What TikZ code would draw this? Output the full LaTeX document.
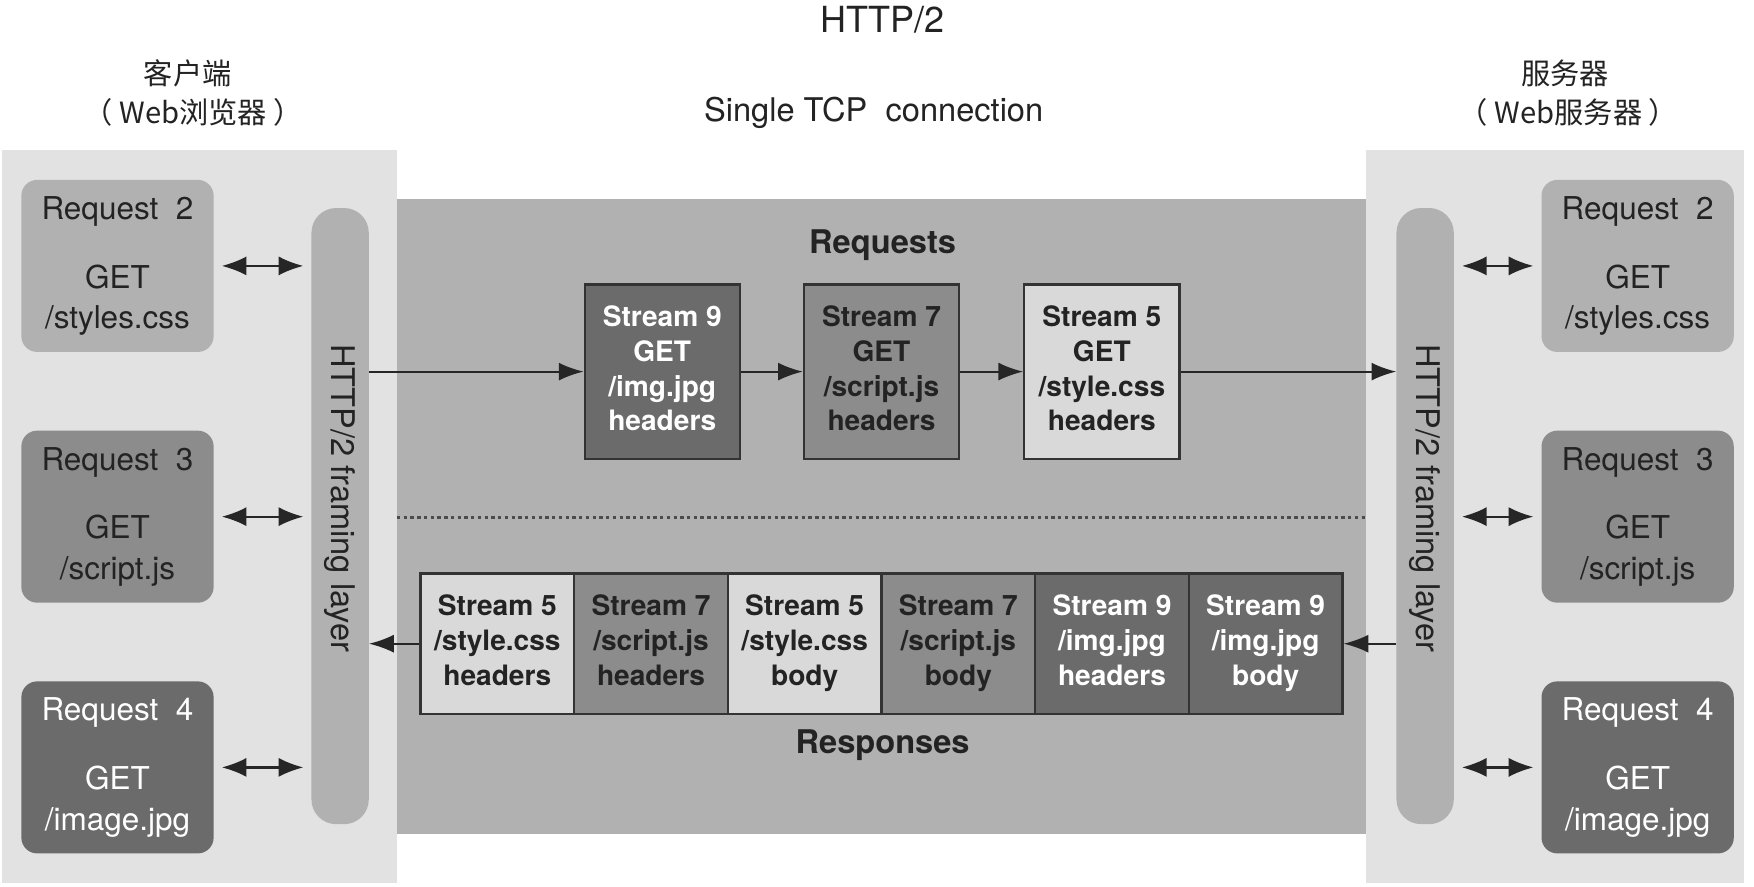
\documentclass[tikz,border=0pt]{standalone}
\usepackage{fontspec}
\setmainfont{TeX Gyre Heros}
\newfontfamily\cjk{Noto Sans CJK SC}
\usetikzlibrary{arrows.meta,calc}
\definecolor{panelL}{HTML}{E2E2E2}
\definecolor{panelD}{HTML}{B1B1B1}
\definecolor{shL}{HTML}{D9D9D9}
\definecolor{shM}{HTML}{8C8C8C}
\definecolor{shD}{HTML}{6B6B6B}
\definecolor{txt}{HTML}{232323}
\definecolor{edge}{HTML}{333333}
\newcommand\myfs[2]{\fontsize{#1}{#2}\selectfont}
\begin{document}
\begin{tikzpicture}[x=1pt,y=-1pt,
  lbl/.style={inner sep=0pt, text=txt, font=\myfs{29}{36}},
  cjklbl/.style={inner sep=0pt, text=txt, font=\cjk\myfs{26}{32}},
  reqbox/.style={rounded corners=14pt, minimum width=171pt, minimum height=153pt,
    inner sep=0pt, align=center, font=\myfs{28}{36}, text=txt},
  framebar/.style={fill=panelD, rounded corners=22pt, minimum width=51pt,
    minimum height=548pt, inner sep=0pt},
  streambox/.style={draw=edge, line width=2pt, minimum width=138pt, minimum height=155pt,
    inner sep=0pt, align=center, font=\bfseries\myfs{25}{31}, text=txt},
  cellbox/.style={draw=edge, line width=2pt, minimum width=136.67pt, minimum height=125pt,
    inner sep=0pt, align=center, font=\bfseries\myfs{25}{31}, text=txt},
  arr/.style={-{Latex[length=22pt,width=16pt]}, line width=1.8pt, draw=black!85},
  dbl/.style={{Latex[length=22pt,width=17pt]}-{Latex[length=22pt,width=17pt]},
    line width=2pt, draw=black!85, shorten <=7pt, shorten >=7pt},
  lightc/.style={fill=shL},
  midc/.style={fill=shM},
  darkc/.style={fill=shD, text=white}
]
\useasboundingbox (0,0) rectangle (1560,788);
\fill[white] (0,0) rectangle (1560,788);

% panels
\fill[panelL] (2,133) rectangle (353,785);
\fill[panelL] (1215,133) rectangle (1551,785);
\fill[panelD] (353,177) rectangle (1215,742);

% titles
\node[lbl, font=\myfs{32}{38}] (title) at (785,18) {HTTP/2};
\node[lbl] (tcp) at (777,100) {Single TCP\ \ connection};
\node[cjklbl] (client) at (167,65) {客户端};
\node[cjklbl] (client2) at (172,100) {（ Web浏览器 ）};
\node[cjklbl] (server) at (1392,65) {服务器};
\node[cjklbl] (server2) at (1395,100) {（ Web服务器 ）};

% framing bars
\node[framebar] (lbar) at (302.5,459) {};
\node[framebar] (rbar) at (1267.5,459) {};
\node[lbl, rotate=-90] (lbartxt) at (302.5,443) {HTTP/2 framing layer};
\node[lbl, rotate=-90] (rbartxt) at (1267.5,443) {HTTP/2 framing layer};

% client requests
\node[reqbox, fill=panelD] (cr2) at (104.5,236.5) {\strut Request\ \ 2\\[25pt]GET\\/styles.css\strut};
\node[reqbox, fill=shM] (cr3) at (104.5,459.5) {\strut Request\ \ 3\\[25pt]GET\\/script.js\strut};
\node[reqbox, fill=shD, text=white] (cr4) at (104.5,682.5) {\strut Request\ \ 4\\[25pt]GET\\/image.jpg\strut};
% server requests
\node[reqbox, fill=panelD] (sr2) at (1456.5,236.5) {\strut Request\ \ 2\\[25pt]GET\\/styles.css\strut};
\node[reqbox, fill=shM] (sr3) at (1456.5,459.5) {\strut Request\ \ 3\\[25pt]GET\\/script.js\strut};
\node[reqbox, fill=shD, text=white] (sr4) at (1456.5,682.5) {\strut Request\ \ 4\\[25pt]GET\\/image.jpg\strut};

\draw[dbl] (cr2.east) -- (cr2.east -| lbar.west);
\draw[dbl] (cr3.east) -- (cr3.east -| lbar.west);
\draw[dbl] (cr4.east) -- (cr4.east -| lbar.west);
\draw[dbl] (sr2.west -| rbar.east) -- (sr2.west);
\draw[dbl] (sr3.west -| rbar.east) -- (sr3.west);
\draw[dbl] (sr4.west -| rbar.east) -- (sr4.west);

% requests
\node[lbl, font=\bfseries\myfs{29}{36}] (reqlbl) at (785,218) {Requests};
\node[streambox, darkc] (s9) at (589,330.5) {\strut Stream 9\\GET\\/img.jpg\\headers\strut};
\node[streambox, midc] (s7) at (784,330.5) {\strut Stream 7\\GET\\/script.js\\headers\strut};
\node[streambox, lightc] (s5) at (980,330.5) {\strut Stream 5\\GET\\/style.css\\headers\strut};
\draw[arr] (s9.west -| lbar.east) -- (s9.west);
\draw[arr] (s9.east) -- (s7.west);
\draw[arr] (s7.east) -- (s5.west);
\draw[arr] (s5.east) -- (s5.east -| rbar.west);

% divider
\draw[black!70, line width=2.4pt, dash pattern=on 3pt off 3pt] (353,460) -- (1215,460);

% responses
\node[cellbox, lightc] (c1) at (442.33,572.5) {\strut Stream 5\\/style.css\\headers\strut};
\node[cellbox, midc] (c2) at (579.00,572.5) {\strut Stream 7\\/script.js\\headers\strut};
\node[cellbox, lightc] (c3) at (715.67,572.5) {\strut Stream 5\\/style.css\\body\strut};
\node[cellbox, midc] (c4) at (852.33,572.5) {\strut Stream 7\\/script.js\\body\strut};
\node[cellbox, darkc] (c5) at (989.00,572.5) {\strut Stream 9\\/img.jpg\\headers\strut};
\node[cellbox, darkc] (c6) at (1125.67,572.5) {\strut Stream 9\\/img.jpg\\body\strut};
\draw[arr] (c6.east -| rbar.west) -- (c6.east);
\draw[arr] (c1.west) -- (c1.west -| lbar.east);
\node[lbl, font=\bfseries\myfs{29}{36}] (resplbl) at (785,663) {Responses};
\end{tikzpicture}
\end{document}
